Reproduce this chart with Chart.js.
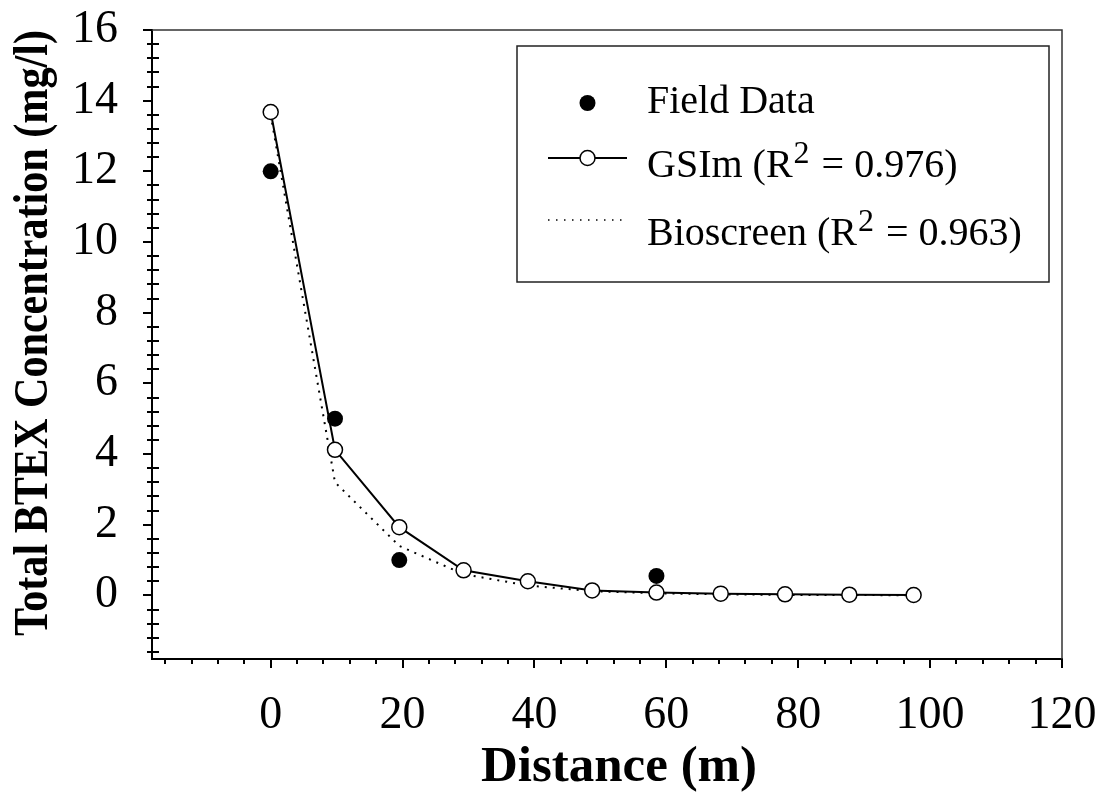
<!DOCTYPE html>
<html>
<head>
<meta charset="utf-8">
<script src="https://cdn.jsdelivr.net/npm/chart.js@4.4.1/dist/chart.umd.min.js"></script>
<style>
  html, body { margin: 0; padding: 0; background: #fff; }
</style>
</head>
<body>
<canvas id="btexChart" width="1108" height="799"></canvas>
<script>
// distance along the plume (m)
const distance = [0, 9.75, 19.5, 29.25, 39, 48.75, 58.5, 68.25, 78, 87.75, 97.5];
// measured wells
const fieldDistance = [0, 9.75, 19.5, 58.5];
const fieldBTEX = [12.0, 5.0, 1.0, 0.55];
// model results (mg/l)
const gsimBTEX = [13.68, 4.12, 1.93, 0.71, 0.40, 0.14, 0.08, 0.05, 0.03, 0.02, 0.01];
const bioscreenBTEX = [13.6, 3.2, 1.4, 0.6, 0.28, 0.12, 0.06, 0.03, 0.015, 0.01, 0.005];

const seriesNames = ['Field Data', 'GSIm', 'Bioscreen'];
const seriesR2 = [null, '0.976', '0.963'];
const xTitle = 'Distance (m)';
const yTitle = 'Total BTEX Concentration (mg/l)';

const SERIF = '"Liberation Serif", "Times New Roman", serif';

function toPoints(xs, ys) {
  return xs.map((x, i) => ({ x: x, y: ys[i] }));
}

// box around the plot + minor ticks
const frameAndMinorTicks = {
  id: 'frameAndMinorTicks',
  afterDraw(chart) {
    const { ctx, chartArea: a, scales: { x, y } } = chart;
    ctx.save();
    ctx.strokeStyle = '#333';
    ctx.lineWidth = 1.5;
    ctx.beginPath();
    ctx.moveTo(a.left, a.top);
    ctx.lineTo(a.right, a.top);
    ctx.lineTo(a.right, a.bottom);
    ctx.stroke();

    ctx.strokeStyle = '#000';
    ctx.lineWidth = 2;
    ctx.beginPath();
    for (let i = -4; i <= 39; i++) {
      if (i % 5 === 0) continue;
      const py = Math.round(y.getPixelForValue(i * 0.4));
      ctx.moveTo(a.left - 5, py);
      ctx.lineTo(a.left + 7, py);
    }
    for (let i = -4; i <= 29; i++) {
      if (i % 5 === 0) continue;
      const px = Math.round(x.getPixelForValue(i * 4));
      ctx.moveTo(px, a.bottom);
      ctx.lineTo(px, a.bottom + 5);
    }
    ctx.stroke();
    ctx.restore();
  }
};

// axis titles (the y one is a bit condensed)
const axisTitles = {
  id: 'axisTitles',
  afterDraw(chart) {
    const ctx = chart.ctx;
    ctx.save();
    ctx.fillStyle = '#000';
    ctx.textAlign = 'center';
    ctx.textBaseline = 'middle';
    ctx.font = 'bold 51px ' + SERIF;
    ctx.fillText(xTitle, 619, 768);
    ctx.translate(34, 333);
    ctx.rotate(-Math.PI / 2);
    ctx.scale(0.86, 1);
    ctx.font = 'bold 49px ' + SERIF;
    ctx.fillText(yTitle, 0, 0);
    ctx.restore();
  }
};

// legend box with R^2 superscripts
const legendBox = {
  id: 'legendBox',
  afterDraw(chart) {
    const { ctx } = chart;
    const rowsMark = [103, 158, 220];
    const rowsText = [113, 177, 245];
    const x0 = 548, x1 = 627, xm = 587.5, xt = 647;
    ctx.save();
    ctx.fillStyle = '#fff';
    ctx.fillRect(517, 46, 532, 236);
    ctx.strokeStyle = '#222';
    ctx.lineWidth = 1.5;
    ctx.strokeRect(517, 46, 532, 236);

    // Field Data marker
    ctx.fillStyle = '#000';
    ctx.beginPath();
    ctx.arc(xm, rowsMark[0], 8, 0, Math.PI * 2);
    ctx.fill();

    // GSIm marker
    ctx.strokeStyle = '#000';
    ctx.lineWidth = 2;
    ctx.beginPath();
    ctx.moveTo(x0, rowsMark[1]);
    ctx.lineTo(x1, rowsMark[1]);
    ctx.stroke();
    ctx.fillStyle = '#fff';
    ctx.lineWidth = 1.5;
    ctx.beginPath();
    ctx.arc(xm, rowsMark[1], 7.5, 0, Math.PI * 2);
    ctx.fill();
    ctx.stroke();

    // Bioscreen marker
    ctx.setLineDash([1.5, 6.5]);
    ctx.lineWidth = 1.5;
    ctx.beginPath();
    ctx.moveTo(x0, rowsMark[2]);
    ctx.lineTo(x1, rowsMark[2]);
    ctx.stroke();
    ctx.setLineDash([]);

    ctx.fillStyle = '#000';
    ctx.textBaseline = 'alphabetic';
    ctx.textAlign = 'left';
    seriesNames.forEach((name, i) => {
      const base = rowsText[i];
      ctx.font = '40px ' + SERIF;
      if (seriesR2[i] === null) {
        ctx.fillText(name, xt, base);
        return;
      }
      let cx = xt;
      const head = name + ' (R';
      ctx.fillText(head, cx, base);
      cx += ctx.measureText(head).width;
      ctx.font = '32px ' + SERIF;
      ctx.fillText('2', cx + 1, base - 14);
      cx += ctx.measureText('2').width + 3;
      ctx.font = '40px ' + SERIF;
      ctx.fillText(' = ' + seriesR2[i] + ')', cx, base);
    });
    ctx.restore();
  }
};

new Chart(document.getElementById('btexChart'), {
  type: 'scatter',
  data: {
    datasets: [{
      label: seriesNames[0],
      data: toPoints(fieldDistance, fieldBTEX),
      showLine: false,
      pointRadius: 8,
      pointBackgroundColor: '#000',
      pointBorderWidth: 0
    }, {
      label: seriesNames[1],
      data: toPoints(distance, gsimBTEX),
      showLine: true,
      borderColor: '#000',
      borderWidth: 2,
      pointRadius: 7.5,
      pointBorderWidth: 1.5,
      pointBorderColor: '#000',
      pointBackgroundColor: '#fff'
    }, {
      label: seriesNames[2],
      data: toPoints(distance, bioscreenBTEX),
      showLine: true,
      borderColor: '#000',
      borderWidth: 2,
      borderDash: [2, 6],
      pointRadius: 0
    }]
  },
  options: {
    responsive: false,
    animation: false,
    layout: { padding: { top: 30, right: 46, left: 0, bottom: 0 } },
    plugins: {
      legend: { display: false },
      tooltip: { enabled: false }
    },
    scales: {
      x: {
        type: 'linear',
        min: -18,
        max: 120,
        afterFit: (s) => {
          s.height = 140;
          s.paddingLeft = 0;
          s.paddingRight = 0;
        },
        ticks: {
          stepSize: 20,
          includeBounds: false,
          maxRotation: 0,
          padding: 20,
          color: '#000',
          font: { family: SERIF, size: 46 }
        },
        grid: { drawOnChartArea: false, tickLength: 9, color: '#000', lineWidth: 2 },
        border: { color: '#000', width: 2 }
      },
      y: {
        min: -1.8,
        max: 16,
        afterFit: (s) => {
          s.width = 152;
          s.paddingTop = 0;
          s.paddingBottom = 0;
        },
        ticks: {
          stepSize: 2,
          includeBounds: false,
          padding: 25,
          color: '#000',
          font: { family: SERIF, size: 46 }
        },
        grid: { drawOnChartArea: false, tickLength: 9, color: '#000', lineWidth: 2 },
        border: { color: '#000', width: 2 }
      }
    }
  },
  plugins: [frameAndMinorTicks, axisTitles, legendBox]
});
</script>
</body>
</html>
